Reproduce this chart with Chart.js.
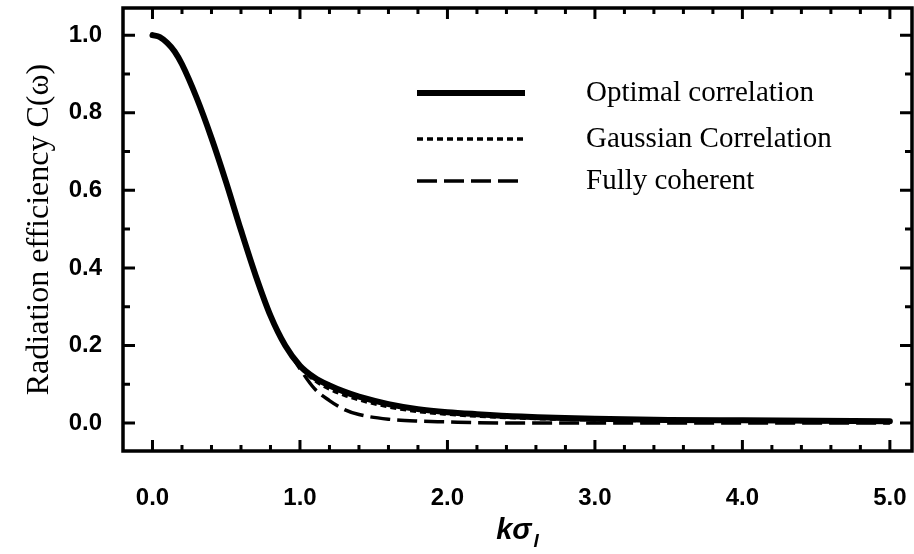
<!DOCTYPE html>
<html>
<head>
<meta charset="utf-8">
<script src="https://cdn.jsdelivr.net/npm/chart.js@4.4.0/dist/chart.umd.min.js"></script>
<style>
  html, body { margin: 0; padding: 0; background: #fff; }
  #wrap { width: 914px; height: 554px; }
</style>
</head>
<body>
<div id="wrap"><canvas id="chart"></canvas></div>
<script>
// k*sigma_l values and radiation efficiency
const K_SIGMA  = [0, 0.05, 0.1, 0.15, 0.2, 0.3, 0.4, 0.5, 0.6, 0.7, 0.8, 0.9, 1.0, 1.1, 1.2, 1.3, 1.4, 1.6, 1.8, 2.0, 2.2, 2.5, 3.0, 3.5, 4.0, 4.5, 5.0];
const OPTIMAL  = [1.0, 0.995, 0.98, 0.958, 0.925, 0.838, 0.735, 0.62, 0.497, 0.38, 0.277, 0.20, 0.148, 0.117, 0.097, 0.081, 0.068, 0.049, 0.036, 0.028, 0.023, 0.017, 0.011, 0.008, 0.007, 0.006, 0.005];
const GAUSSIAN = [1.0, 0.995, 0.98, 0.958, 0.925, 0.838, 0.735, 0.62, 0.497, 0.38, 0.277, 0.20, 0.145, 0.110, 0.088, 0.072, 0.060, 0.042, 0.030, 0.023, 0.018, 0.013, 0.008, 0.006, 0.005, 0.004, 0.003];
const COHERENT = [1.0, 0.995, 0.98, 0.958, 0.925, 0.838, 0.735, 0.62, 0.497, 0.38, 0.277, 0.20, 0.140, 0.088, 0.058, 0.035, 0.022, 0.010, 0.005, 0.003, 0.001, 0.0, 0.0, 0.0, 0.0, 0.0, 0.0];

const X_TICKS = [0, 1, 2, 3, 4, 5];
const Y_TICKS = [0, 0.2, 0.4, 0.6, 0.8, 1.0];

const pts = ys => K_SIGMA.map((x, i) => ({ x, y: ys[i] }));

const noPad = s => { s.paddingTop = 0; s.paddingBottom = 0; s.paddingLeft = 0; s.paddingRight = 0; };

// frame, inward ticks on all four sides, in-plot legend and the x title
const framePlugin = {
  id: 'frame',
  afterDraw(chart) {
    const { ctx, chartArea: a, scales: { x, y } } = chart;
    ctx.save();
    ctx.strokeStyle = '#000';
    ctx.lineWidth = 3.5;
    ctx.strokeRect(a.left, a.top, a.right - a.left, a.bottom - a.top);

    ctx.lineWidth = 3;
    ctx.beginPath();
    for (let v = 0; v <= 5.001; v += 0.2) {
      const px = x.getPixelForValue(v);
      const len = Math.abs(v - Math.round(v)) < 1e-6 ? 11 : 6;
      ctx.moveTo(px, a.bottom); ctx.lineTo(px, a.bottom - len);
      ctx.moveTo(px, a.top);    ctx.lineTo(px, a.top + len);
    }
    for (let v = 0; v <= 1.001; v += 0.1) {
      const py = y.getPixelForValue(v);
      const major = Math.round(v * 10) % 2 === 0;
      const len = major ? 12 : 7;
      ctx.moveTo(a.left, py);  ctx.lineTo(a.left + len, py);
      ctx.moveTo(a.right, py); ctx.lineTo(a.right - len, py);
    }
    ctx.stroke();

    // legend
    const rows = [93, 139, 181];
    chart.data.datasets.forEach((ds, i) => {
      ctx.beginPath();
      ctx.lineWidth = ds.borderWidth;
      ctx.setLineDash(ds.borderDash || []);
      ctx.moveTo(417, rows[i]); ctx.lineTo(525, rows[i]);
      ctx.stroke();
      ctx.setLineDash([]);
      ctx.fillStyle = '#000';
      ctx.font = '29px "Liberation Serif"';
      ctx.textBaseline = 'middle';
      ctx.textAlign = 'left';
      ctx.fillText(ds.label, 586, rows[i]);
    });

    // x title: k sigma with subscript l
    const cx = (a.left + a.right) / 2;
    ctx.font = 'italic bold 29px "Liberation Sans"';
    ctx.textBaseline = 'alphabetic';
    const main = 'kσ';
    const w = ctx.measureText(main).width;
    ctx.font = 'italic bold 19px "Liberation Sans"';
    const ws = ctx.measureText('l').width;
    const x0 = cx - (w + ws + 2) / 2;
    ctx.font = 'italic bold 29px "Liberation Sans"';
    ctx.fillText(main, x0, 539);
    ctx.font = 'italic bold 19px "Liberation Sans"';
    ctx.fillText('l', x0 + w + 2, 547);
    ctx.restore();
  }
};

new Chart(document.getElementById('chart'), {
  type: 'line',
  data: {
    datasets: [
      { label: 'Optimal correlation',  data: pts(OPTIMAL),  borderColor: '#000', borderWidth: 6,   borderCapStyle: 'round' },
      { label: 'Gaussian Correlation', data: pts(GAUSSIAN), borderColor: '#000', borderWidth: 3.5, borderDash: [6, 4] },
      { label: 'Fully coherent',       data: pts(COHERENT), borderColor: '#000', borderWidth: 3.5, borderDash: [20, 7] }
    ]
  },
  options: {
    responsive: true, maintainAspectRatio: false, animation: false,
    layout: { padding: { top: 8, right: 2, left: 0, bottom: 0 } },
    plugins: { legend: { display: false }, tooltip: { enabled: false } },
    elements: { point: { radius: 0 }, line: { cubicInterpolationMode: 'monotone' } },
    scales: {
      x: {
        type: 'linear', min: -0.2, max: 5.15,
        afterFit: s => { s.height = 103; noPad(s); },
        afterBuildTicks: s => { s.ticks = X_TICKS.map(v => ({ value: v })); },
        grid: { display: false, drawTicks: false },
        border: { display: false },
        ticks: { padding: 33, maxRotation: 0, color: '#000', font: { family: 'Liberation Sans', weight: 'bold', size: 24 }, callback: v => v.toFixed(1) }
      },
      y: {
        type: 'linear', min: -0.072, max: 1.07,
        afterFit: s => { s.width = 123; noPad(s); },
        afterBuildTicks: s => { s.ticks = Y_TICKS.map(v => ({ value: v })); },
        grid: { display: false, drawTicks: false },
        border: { display: false },
        ticks: { padding: 21, color: '#000', font: { family: 'Liberation Sans', weight: 'bold', size: 24 }, callback: v => v.toFixed(1) },
        title: { display: true, text: 'Radiation efficiency C(ω)', color: '#000', font: { family: 'Liberation Serif', size: 32 }, padding: { top: 20, bottom: 0 } }
      }
    }
  },
  plugins: [framePlugin]
});
</script>
</body>
</html>
